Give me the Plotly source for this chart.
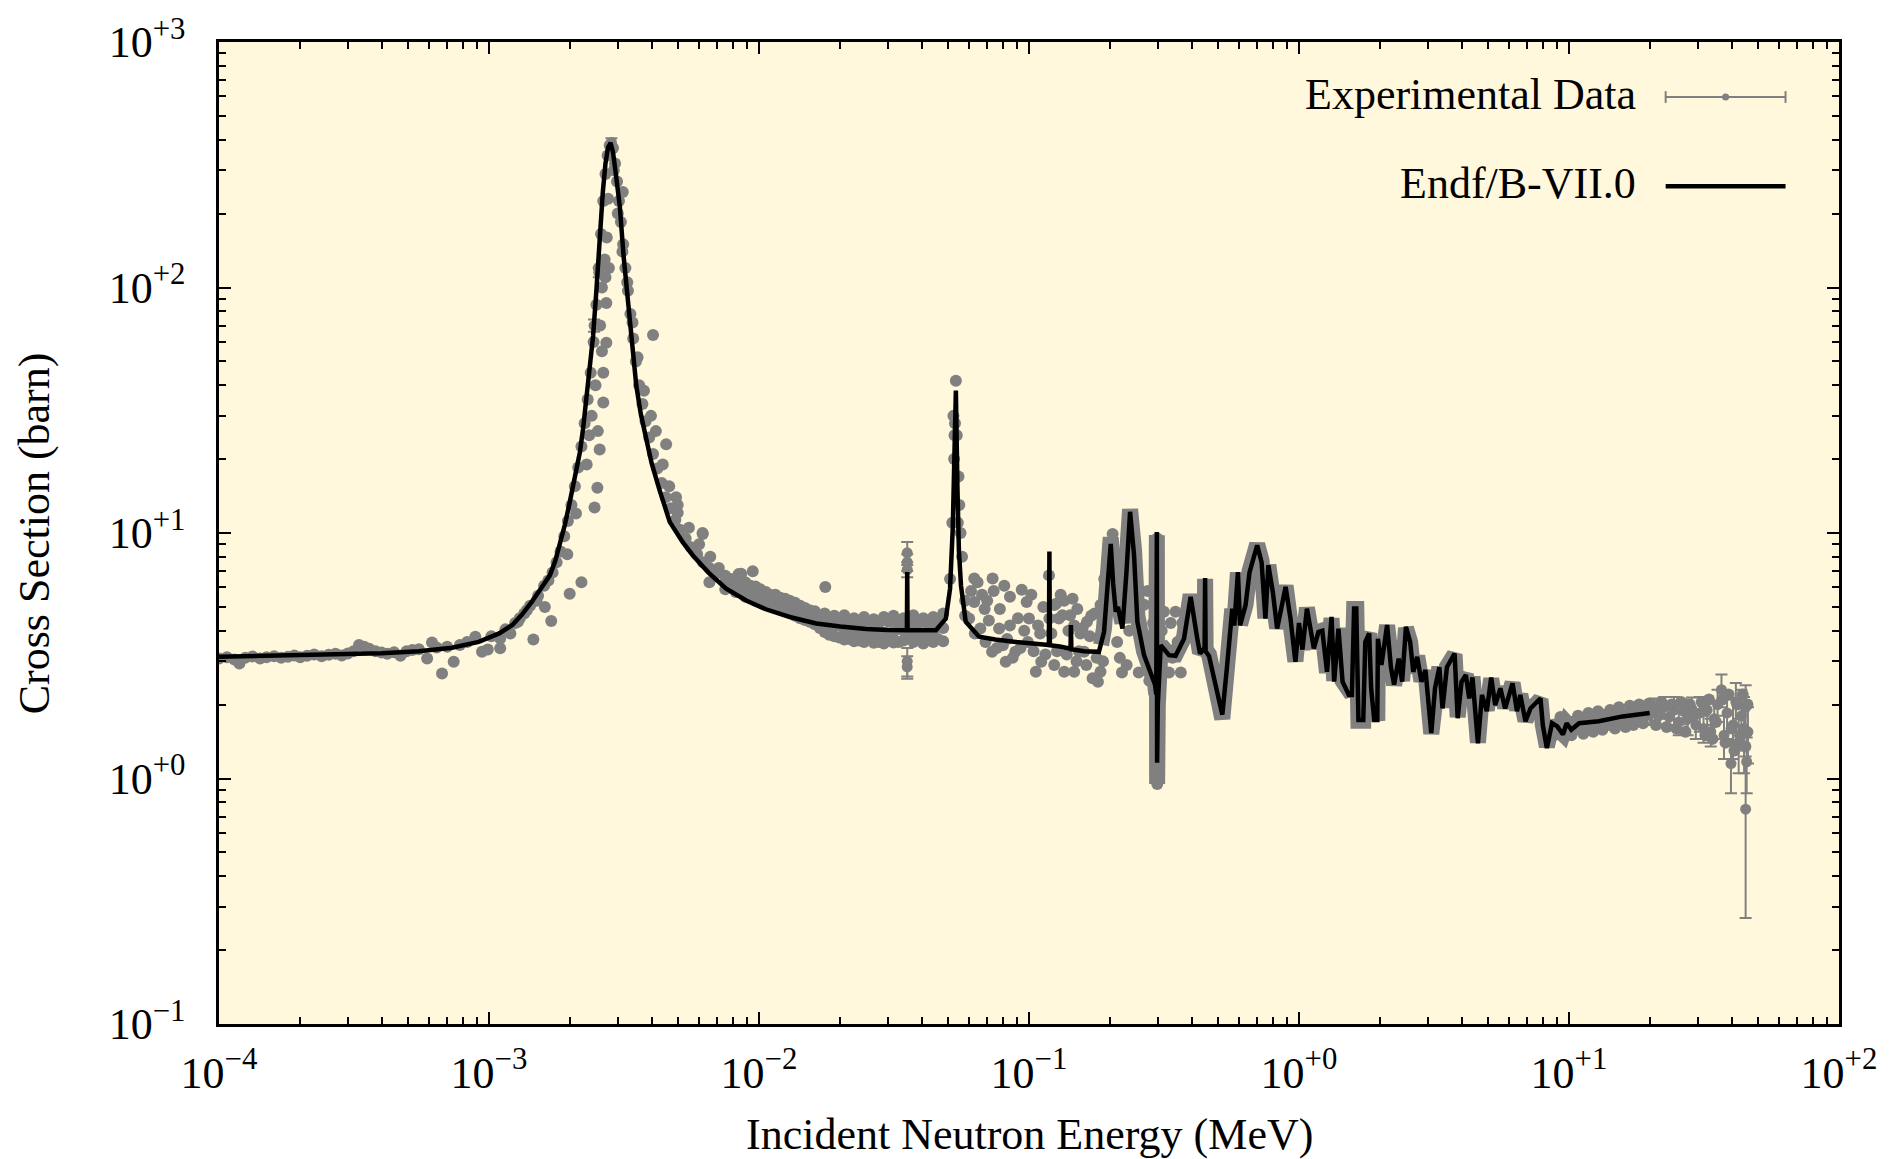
import plotly.graph_objects as go

# ---------------- data ----------------
# ENDF/B-VII.0 evaluated curve: energy (MeV) and cross section (barn)
endf_E = [1.0e-4, 2.34e-4, 4.0e-4, 5.5e-4, 7.29e-4, 9.16e-4, 1.09e-3, 1.22e-3, 1.32e-3, 1.44e-3,
          1.56e-3, 1.68e-3, 1.76e-3, 1.83e-3, 1.91e-3, 1.99e-3, 2.08e-3, 2.17e-3, 2.23e-3, 2.29e-3,
          2.36e-3, 2.43e-3, 2.5e-3, 2.57e-3, 2.64e-3, 2.7e-3, 2.76e-3, 2.82e-3, 2.88e-3, 2.95e-3,
          3.05e-3, 3.15e-3, 3.27e-3, 3.38e-3, 3.51e-3, 3.65e-3, 3.82e-3, 4.0e-3, 4.28e-3, 4.67e-3,
          5.21e-3, 5.69e-3, 6.5e-3, 7.56e-3, 9.0e-3, 1.06e-2, 1.3e-2, 1.63e-2, 2.0e-2, 2.49e-2,
          3.0e-2, 3.53e-2, 3.54e-2, 3.55e-2, 4.0e-2, 4.52e-2, 4.92e-2, 5.1e-2, 5.22e-2, 5.3e-2,
          5.36e-2, 5.43e-2, 5.5e-2, 5.6e-2, 5.83e-2, 6.53e-2, 7.5e-2, 8.94e-2, 0.1, 0.1185,
          0.1190, 0.1195, 0.13, 0.1425, 0.1430, 0.1435, 0.16, 0.1815, 0.1896, 0.195,
          0.2008, 0.205, 0.2096, 0.2135, 0.2218, 0.2296, 0.2368, 0.245, 0.252, 0.2667,
          0.2825, 0.293, 0.296, 0.2975, 0.2982, 0.300, 0.3075, 0.33, 0.349, 0.375,
          0.397, 0.42, 0.43, 0.447, 0.449, 0.451, 0.464, 0.485, 0.505, 0.52,
          0.542, 0.555, 0.566, 0.576, 0.594, 0.605, 0.634, 0.656, 0.70, 0.727,
          0.751, 0.77, 0.80, 0.83, 0.892, 0.93, 0.97, 1.0, 1.03, 1.07,
          1.135, 1.18, 1.22, 1.27, 1.32, 1.35, 1.40, 1.45, 1.53, 1.57,
          1.60, 1.63, 1.66, 1.73, 1.76, 1.82, 1.85, 1.90, 1.95, 1.96,
          2.02, 2.12, 2.19, 2.25, 2.34, 2.41, 2.49, 2.58, 2.65, 2.74,
          2.84, 2.94, 3.09, 3.19, 3.31, 3.40, 3.53, 3.77, 3.87, 4.0,
          4.15, 4.27, 4.39, 4.6, 4.76, 4.96, 5.15, 5.33, 5.57, 5.8,
          6.18, 6.42, 6.6, 6.9, 7.2, 7.54, 7.84, 8.0, 8.28, 8.65,
          9.05, 9.5, 9.8, 10.2, 10.9, 12.9, 15.8, 19.9]
endf_xs = [3.13, 3.19, 3.24, 3.30, 3.41, 3.60, 3.90, 4.22, 4.63, 5.24,
           5.95, 6.72, 7.7, 8.9, 10.8, 13.3, 16.8, 21.3, 26.5, 34,
           45, 63.5, 98, 162, 245, 320, 372, 388, 355, 290,
           215, 135, 86.5, 58, 40, 30.5, 24, 19.3, 15.0, 11.1,
           9.2, 8.1, 6.9, 5.93, 5.3, 4.89, 4.55, 4.28, 4.16, 4.06,
           4.03, 4.02, 6.93, 4.02, 4.02, 4.02, 4.48, 5.93, 10.5, 22,
           38, 15.6, 8.5, 6.1, 4.35, 3.78, 3.68, 3.6, 3.56, 3.5,
           8.41, 3.49, 3.45, 3.38, 4.22, 3.36, 3.3, 3.28, 3.95, 6.0,
           9.03, 6.2, 4.78, 5.0, 4.08, 6.93, 12.2, 8.1, 4.35, 3.18,
           2.72, 2.41, 2.2, 10.1, 1.16, 2.0, 3.49, 3.18, 3.16, 3.71,
           5.49, 3.71, 3.23, 3.4, 6.56, 3.3, 3.16, 2.56, 2.12, 1.82,
           2.9, 4.08, 4.92, 4.2, 6.93, 4.2, 5.08, 6.93, 8.9, 7.6,
           4.48, 7.4, 5.75, 4.08, 6.03, 4.48, 2.99, 4.3, 3.35, 4.92,
           3.39, 3.95, 4.0, 2.72, 4.55, 2.48, 4.08, 2.48, 2.19, 2.19,
           4.92, 4.92, 1.73, 1.73, 3.6, 3.9, 2.33, 1.73, 1.73, 3.71,
           2.9, 4.22, 2.84, 2.41, 3.08, 2.48, 4.15, 3.6, 2.72, 3.13,
           2.48, 2.77, 1.53, 2.33, 2.84, 1.93, 2.84, 3.23, 1.76, 2.48,
           2.64, 2.12, 2.58, 1.39, 2.19, 1.88, 2.58, 1.99, 2.33, 1.93,
           2.44, 1.88, 2.19, 1.71, 1.93, 2.03, 2.12, 1.65, 1.33, 1.68,
           1.63, 1.51, 1.68, 1.58, 1.68, 1.71, 1.79, 1.85]

# Experimental data, low-energy plateau (1e-4 .. 1.7e-3 MeV)
exp_low_E = [1.0e-4, 1.07e-4, 1.14e-4, 1.19e-4, 1.25e-4, 1.33e-4, 1.42e-4, 1.5e-4, 1.6e-4, 1.7e-4,
             1.8e-4, 1.9e-4, 2.0e-4, 2.12e-4, 2.25e-4, 2.4e-4, 2.55e-4, 2.7e-4, 2.85e-4, 3.0e-4,
             3.15e-4, 3.3e-4, 3.45e-4, 3.6e-4, 3.8e-4, 4.0e-4, 4.2e-4, 4.45e-4, 4.7e-4, 4.95e-4,
             5.2e-4, 5.5e-4, 5.9e-4, 6.15e-4, 6.4e-4, 6.7e-4, 7.0e-4, 7.4e-4, 7.8e-4, 8.3e-4,
             8.9e-4, 9.42e-4, 9.9e-4, 1.02e-3, 1.1e-3, 1.1e-3, 1.15e-3, 1.2e-3, 1.25e-3, 1.3e-3,
             1.38e-3, 1.46e-3, 1.5e-3, 1.61e-3, 1.7e-3]
exp_low_xs = [3.08, 3.12, 3.05, 2.94, 3.10, 3.14, 3.08, 3.12, 3.15, 3.10,
              3.13, 3.17, 3.12, 3.16, 3.20, 3.15, 3.19, 3.22, 3.17, 3.23,
              3.30, 3.50, 3.44, 3.38, 3.30, 3.26, 3.22, 3.27, 3.16, 3.30,
              3.34, 3.36, 3.08, 3.58, 3.42, 2.68, 3.44, 2.99, 3.50, 3.60,
              3.78, 3.28, 3.35, 3.80, 3.39, 3.72, 4.05, 3.90, 4.30, 4.50,
              4.85, 3.68, 5.30, 5.00, 4.38]

# Experimental data around the 2.85 keV resonance
exp_peak_E = [1.28e-3, 1.35e-3, 1.42e-3, 1.52e-3, 1.6e-3, 1.66e-3, 1.72e-3, 1.78e-3, 1.84e-3, 1.9e-3,
              1.96e-3, 2.02e-3, 2.08e-3, 2.14e-3, 2.2e-3, 2.26e-3, 2.32e-3, 2.38e-3, 2.44e-3, 2.5e-3,
              2.55e-3, 2.6e-3, 2.65e-3, 2.7e-3, 2.75e-3, 2.8e-3, 2.88e-3, 2.93e-3, 2.98e-3, 3.03e-3,
              3.08e-3, 3.14e-3, 3.2e-3, 3.27e-3, 3.34e-3, 3.42e-3, 3.5e-3, 3.6e-3, 3.7e-3, 3.8e-3,
              3.92e-3, 4.05e-3, 4.2e-3, 4.36e-3, 4.52e-3, 4.7e-3, 4.9e-3, 5.1e-3, 5.35e-3, 5.6e-3,
              5.9e-3, 6.2e-3, 6.55e-3, 6.9e-3,
              2.72e-3, 2.72e-3, 2.65e-3, 2.65e-3, 2.53e-3, 2.57e-3, 2.52e-3, 2.46e-3, 2.2e-3, 1.99e-3,
              2.76e-3, 2.73e-3, 2.78e-3, 3.13e-3, 4.05e-3, 4.53e-3, 4.93e-3, 5.0e-3, 6.18e-3, 8.8e-3,
              6.19e-3, 6.55e-3, 8.4e-3, 8.59e-3, 9.48e-3, 1.76e-2,
              2.62e-3, 2.68e-3, 2.58e-3, 2.48e-3, 2.4e-3, 2.35e-3, 2.62e-3, 2.7e-3, 2.9e-3, 3.0e-3,
              3.12e-3, 3.25e-3, 3.4e-3, 3.55e-3, 3.75e-3, 3.98e-3, 4.15e-3, 4.4e-3, 4.65e-3, 5.0e-3,
              5.5e-3, 6.0e-3, 6.6e-3, 7.1e-3, 2.3e-3, 2.1e-3, 1.95e-3]
exp_peak_xs = [4.35, 4.7, 5.05, 5.55, 6.1, 6.4, 6.9, 7.6, 8.4, 9.7,
               11.2, 13.0, 15.5, 18.5, 22.5, 28, 35, 45, 60, 85,
               120, 165, 225, 290, 345, 380, 370, 320, 270, 225,
               185, 150, 120, 97, 78, 62, 50, 40, 33.5, 28.5,
               24.5, 21, 18.3, 16, 14, 12.6, 11.3, 10.3, 9.5, 8.75,
               8.2, 7.6, 7.2, 6.8,
               86.5, 59.5, 45, 34, 26, 21.9, 15.3, 12.7, 6.3, 5.66,
               230, 160, 120, 245, 64, 23, 14, 12.1, 10, 6.3,
               9.9, 6.3, 6.8, 6.83, 6.98, 6.03,
               100, 130, 70, 40, 30, 25, 55, 110, 300, 200,
               140, 105, 72, 52, 38, 30, 26, 19, 15.5, 13,
               10.5, 9.0, 8.0, 7.2, 19, 12, 8.2]

# Experimental data, smooth region 7.5e-3 .. 5e-2 MeV
exp_mid_E = [7.5e-3, 7.5e-3, 7.5e-3, 8.2e-3, 8.2e-3, 8.2e-3, 8.9e-3, 8.9e-3, 8.9e-3,
             9.7e-3, 9.7e-3, 9.7e-3, 1.06e-2, 1.06e-2, 1.06e-2, 1.15e-2, 1.15e-2, 1.15e-2,
             1.25e-2, 1.25e-2, 1.25e-2, 1.36e-2, 1.36e-2, 1.36e-2, 1.48e-2, 1.48e-2, 1.48e-2,
             1.61e-2, 1.61e-2, 1.61e-2, 1.75e-2, 1.75e-2, 1.75e-2, 1.9e-2, 1.9e-2, 1.9e-2,
             2.07e-2, 2.07e-2, 2.07e-2, 2.25e-2, 2.25e-2, 2.25e-2, 2.45e-2, 2.45e-2, 2.45e-2,
             2.66e-2, 2.66e-2, 2.66e-2, 2.9e-2, 2.9e-2, 2.9e-2, 3.15e-2, 3.15e-2, 3.15e-2,
             3.43e-2, 3.43e-2, 3.43e-2, 3.73e-2, 3.73e-2, 3.73e-2, 4.06e-2, 4.06e-2, 4.06e-2,
             4.42e-2, 4.42e-2, 4.42e-2, 4.81e-2, 4.81e-2, 4.81e-2,
             7.85e-3, 7.85e-3, 8.55e-3, 8.55e-3, 9.3e-3, 9.3e-3, 1.01e-2, 1.01e-2, 1.1e-2, 1.1e-2,
             1.2e-2, 1.2e-2, 1.3e-2, 1.3e-2, 1.42e-2, 1.42e-2, 1.54e-2, 1.54e-2, 1.68e-2, 1.68e-2,
             1.82e-2, 1.82e-2, 1.98e-2, 1.98e-2, 2.16e-2, 2.16e-2, 2.35e-2, 2.35e-2, 2.55e-2, 2.55e-2,
             2.78e-2, 2.78e-2, 3.02e-2, 3.02e-2, 3.29e-2, 3.29e-2, 3.58e-2, 3.58e-2, 3.9e-2, 3.9e-2,
             4.24e-2, 4.24e-2, 4.6e-2, 4.6e-2]
exp_mid_xs = [5.9, 6.3, 6.7, 5.75, 6.1, 6.5, 5.5, 5.9, 6.3,
              5.3, 5.65, 6.05, 5.1, 5.45, 5.75, 4.95, 5.25, 5.6,
              4.8, 5.1, 5.4, 4.6, 4.9, 5.2, 4.42, 4.65, 4.95,
              4.25, 4.5, 4.8, 3.95, 4.3, 4.7, 3.8, 4.15, 4.6,
              3.68, 4.05, 4.62, 3.62, 4.0, 4.5, 3.6, 3.95, 4.55,
              3.57, 3.9, 4.45, 3.55, 3.92, 4.55, 3.58, 3.95, 4.6,
              3.65, 4.0, 4.5, 3.6, 3.95, 4.62, 3.55, 3.9, 4.5,
              3.6, 4.0, 4.55, 3.62, 4.1, 4.7,
              6.1, 6.5, 5.85, 6.3, 5.6, 6.1, 5.4, 5.9, 5.2, 5.6,
              5.0, 5.45, 4.75, 5.3, 4.5, 5.05, 4.35, 4.85, 4.1, 4.6,
              3.85, 4.45, 3.75, 4.35, 3.7, 4.25, 3.65, 4.3, 3.75, 4.25,
              3.6, 4.3, 3.7, 4.35, 3.6, 4.25, 3.75, 4.3, 3.7, 4.3,
              3.75, 4.25, 3.7, 4.35]

# Experimental data, resolved resonance cloud 5e-2 .. 0.4 MeV
exp_res_E = [0.051, 0.052, 0.0525, 0.0528, 0.053, 0.0532, 0.0536, 0.054, 0.0545, 0.0548,
             0.0552, 0.0558, 0.0565, 0.0627, 0.0645, 0.0733, 0.0627, 0.070, 0.060, 0.066,
             0.0775, 0.080, 0.073, 0.082, 0.089, 0.094, 0.098, 0.100, 0.106, 0.111,
             0.099, 0.1186, 0.119, 0.124, 0.129, 0.135, 0.142, 0.147, 0.124, 0.135,
             0.147, 0.177, 0.184, 0.160, 0.184, 0.204, 0.126, 0.145, 0.133, 0.164,
             0.172, 0.180, 0.185, 0.210, 0.214, 0.217, 0.221, 0.230, 0.258, 0.267,
             0.275, 0.255, 0.279, 0.288, 0.249, 0.220, 0.316, 0.330, 0.349, 0.365,
             0.340, 0.2985, 0.2985, 0.2985, 0.2985, 0.2985, 0.2985, 0.0685, 0.085, 0.155,
             0.170, 0.195, 0.110, 0.150, 0.192,
             0.058, 0.058, 0.061, 0.063, 0.067, 0.069, 0.071, 0.074, 0.076, 0.078,
             0.081, 0.083, 0.085, 0.087, 0.091, 0.093, 0.096, 0.102, 0.104, 0.108,
             0.113, 0.115, 0.121, 0.127, 0.131, 0.138, 0.140, 0.151, 0.153, 0.158,
             0.163, 0.168, 0.175, 0.178, 0.188, 0.190, 0.197, 0.207, 0.212, 0.225,
             0.235, 0.240, 0.262, 0.270, 0.285, 0.292, 0.310, 0.320, 0.335, 0.355,
             0.370, 0.385]
exp_res_xs = [6.5, 11, 30, 20, 25, 28, 41.7, 25, 11, 17,
              13, 10, 8, 6.52, 6.3, 6.52, 5.24, 5.3, 4.48, 4.08,
              4.08, 3.49, 3.28, 2.99, 3.28, 5.87, 5.24, 4.48, 2.72, 2.99,
              3.6, 6.72, 4.48, 5.09, 4.48, 5.3, 4.62, 4.2, 2.9, 2.72,
              2.72, 2.56, 2.72, 3.28, 5.09, 9.9, 5.15, 5.4, 4.62, 4.35,
              2.56, 2.48, 5.09, 6.93, 6.0, 3.1, 2.7, 2.9, 5.85, 5.1,
              5.8, 2.7, 2.5, 4.3, 6.9, 7.2, 4.78, 2.7, 4.78, 2.7,
              3.1, 0.95, 1.1, 1.4, 1.8, 8.5, 9.5, 4.9, 4.2, 3.9,
              4.6, 5.9, 3.9, 3.0, 4.8,
              4.6, 5.3, 5.8, 3.9, 5.6, 3.6, 4.4, 5.8, 3.4, 4.9,
              6.1, 3.7, 5.5, 3.1, 4.5, 3.4, 4.0, 5.6, 3.3, 4.2,
              5.0, 3.2, 3.9, 3.3, 5.6, 3.2, 4.0, 4.9, 3.3, 4.1,
              2.9, 3.8, 4.7, 3.1, 3.0, 6.5, 7.5, 5.6, 3.6, 5.5,
              4.0, 7.5, 4.0, 3.6, 3.5, 5.2, 4.0, 3.3, 4.3, 3.6,
              4.3, 4.5]

# Experimental data, high-energy scatter without visible bars (8 .. 46 MeV)
exp_high_E = [8.8, 9.3, 10.2, 10.8, 11.3, 11.8, 12.3, 12.8, 13.3, 14.2,
              14.8, 15.3, 16.2, 16.8, 17.3, 18.2, 18.8, 19.8, 21.0, 22.0,
              23.0, 24.0, 25.0, 26.0, 27.0, 28.0, 29.0, 31.0, 32.0, 33.0,
              34.0, 35.0, 37.0, 38.0, 39.0, 40.0, 41.0, 42.0, 43.0, 44.0,
              45.0, 45.8]
exp_high_xs = [1.5, 1.78, 1.5, 1.8, 1.52, 1.85, 1.55, 1.88, 1.58, 1.9,
               1.6, 1.95, 1.62, 1.98, 1.65, 2.0, 1.68, 2.02, 1.65, 2.05,
               1.62, 2.0, 1.6, 2.05, 1.55, 2.0, 1.8, 2.05, 1.5, 2.1,
               1.45, 1.7, 2.1, 1.4, 2.2, 1.6, 1.3, 2.0, 1.5, 2.2,
               1.35, 2.0]

# Experimental data, dense high-energy set hugging the evaluation (0.185 .. 13 MeV)
exp_dense_E = [0.185, 0.1896, 0.195, 0.2008, 0.205, 0.2096, 0.2135, 0.2218, 0.2296, 0.2368,
               0.245, 0.252, 0.2667, 0.2825, 0.293, 0.296, 0.2975, 0.2982, 0.300, 0.3075,
               0.33, 0.349, 0.375, 0.397, 0.42, 0.43, 0.447, 0.449, 0.451, 0.464,
               0.485, 0.505, 0.52, 0.542, 0.555, 0.566, 0.576, 0.594, 0.605, 0.634,
               0.656, 0.70, 0.727, 0.751, 0.77, 0.80, 0.83, 0.892, 0.93, 0.97,
               1.0, 1.03, 1.07, 1.135, 1.18, 1.22, 1.27, 1.32, 1.35, 1.40,
               1.45, 1.53, 1.57, 1.60, 1.63, 1.66, 1.73, 1.76, 1.82, 1.85,
               1.90, 1.95, 1.96, 2.02, 2.12, 2.19, 2.25, 2.34, 2.41, 2.49,
               2.58, 2.65, 2.74, 2.84, 2.94, 3.09, 3.19, 3.31, 3.40, 3.53,
               3.77, 3.87, 4.0, 4.15, 4.27, 4.39, 4.6, 4.76, 4.96, 5.15,
               5.33, 5.57, 5.8, 6.18, 6.42, 6.6, 6.9, 7.2, 7.54, 7.84,
               8.0, 8.28, 8.65, 9.05, 9.5, 9.8, 10.2, 10.9, 12.9]
exp_dense_xs = [3.5, 4.1, 6.3, 9.6, 6.5, 5.0, 5.3, 4.3, 7.2, 12.5,
                8.5, 4.6, 3.3, 2.8, 2.45, 2.2, 9.8, 0.95, 2.0, 3.5,
                3.2, 3.2, 3.75, 5.6, 3.75, 3.25, 3.4, 6.5, 3.35, 3.2,
                2.55, 2.1, 1.75, 2.9, 4.1, 4.9, 4.25, 6.9, 4.25, 5.1,
                7.0, 9.0, 7.7, 4.5, 7.4, 5.8, 4.1, 6.1, 4.5, 3.0,
                4.3, 3.35, 4.95, 3.4, 3.95, 4.0, 2.7, 4.5, 2.5, 4.1,
                2.5, 2.2, 2.2, 4.9, 4.9, 1.72, 1.72, 3.6, 3.9, 2.35,
                1.72, 1.72, 3.7, 2.9, 4.2, 2.85, 2.4, 3.1, 2.5, 4.1,
                3.6, 2.7, 3.15, 2.5, 2.75, 1.52, 2.35, 2.85, 1.95, 2.85,
                3.2, 1.78, 2.5, 2.65, 2.1, 2.6, 1.4, 2.2, 1.9, 2.55,
                2.0, 2.35, 1.95, 2.45, 1.9, 2.2, 1.72, 1.95, 2.0, 2.1,
                1.65, 1.35, 1.68, 1.62, 1.52, 1.68, 1.6, 1.68, 1.72]

# Experimental data with visible error bars (value, +/- uncertainty)
exp_eb_E = [2.84e-3, 2.45e-3, 2.55e-3,
            0.0354, 0.0354, 0.0354, 0.0354, 0.0354,
            8.5, 9.0, 9.5, 10.0, 10.5, 11.0, 11.5, 12.0, 12.5, 13.0,
            13.5, 14.0, 14.5, 15.0, 15.5, 16.0, 16.5, 17.0, 17.5, 18.0,
            18.5, 19.0, 19.5, 20.0, 20.8, 21.5, 22.5, 23.5, 24.5, 25.5,
            26.5, 27.5, 28.5, 29.5, 30.5, 31.5, 32.5, 33.5, 34.5, 35.5,
            36.7, 37.5, 38.5, 39.8, 40.5, 41.5, 42.5, 43.5, 44.5, 45.1,
            45.1, 45.5, 46.0]
exp_eb_xs = [390, 70, 115,
             8.3, 7.6, 7.1, 3.0, 2.85,
             1.62, 1.55, 1.70, 1.60, 1.68, 1.62, 1.72, 1.66, 1.75, 1.68,
             1.78, 1.70, 1.80, 1.72, 1.82, 1.75, 1.84, 1.77, 1.86, 1.79,
             1.88, 1.81, 1.90, 1.83, 1.92, 1.80, 1.95, 1.78, 1.90, 1.70,
             1.88, 1.75, 1.92, 1.65, 1.85, 1.60, 1.90, 1.55, 1.75, 2.00,
             2.30, 1.50, 1.85, 1.15, 1.65, 2.05, 1.40, 1.80, 1.60, 1.95,
             0.75, 1.17, 1.55]
exp_eb_err = [15, 4, 5,
              0.9, 0.6, 0.5, 0.4, 0.3,
              0.10, 0.10, 0.10, 0.12, 0.10, 0.10, 0.10, 0.10, 0.10, 0.12,
              0.12, 0.12, 0.12, 0.12, 0.14, 0.15, 0.15, 0.15, 0.15, 0.15,
              0.16, 0.16, 0.16, 0.16, 0.20, 0.18, 0.20, 0.20, 0.25, 0.20,
              0.22, 0.25, 0.22, 0.20, 0.30, 0.20, 0.25, 0.20, 0.30, 0.30,
              0.35, 0.30, 0.40, 0.28, 0.45, 0.40, 0.35, 0.50, 0.55, 0.45,
              0.48, 0.30, 0.40]

# Axis tick values and labels
x_tick_vals = [1e-4, 1e-3, 1e-2, 1e-1, 1e0, 1e1, 1e2]
x_tick_text = ["10<sup>\u22124</sup>", "10<sup>\u22123</sup>", "10<sup>\u22122</sup>",
               "10<sup>\u22121</sup>", "10<sup>+0</sup>", "10<sup>+1</sup>", "10<sup>+2</sup>"]
y_tick_vals = [1e-1, 1e0, 1e1, 1e2, 1e3]
y_tick_text = ["10<sup>\u22121</sup>", "10<sup>+0</sup>", "10<sup>+1</sup>",
               "10<sup>+2</sup>", "10<sup>+3</sup>"]

# ---------------- styling ----------------
FONT = "Liberation Serif"
GREY = "#808080"
BG = "#FFF8DC"

x_minor = [m * 10.0 ** k for k in range(-4, 2) for m in range(2, 10)]
y_minor = [m * 10.0 ** k for k in range(-1, 3) for m in range(2, 10)]

fig = go.Figure()

scatter_E = exp_low_E + exp_peak_E + exp_mid_E + exp_res_E + exp_high_E
scatter_xs = exp_low_xs + exp_peak_xs + exp_mid_xs + exp_res_xs + exp_high_xs

fig.add_trace(go.Scatter(x=scatter_E, y=scatter_xs, mode="markers",
                         marker=dict(color=GREY, size=12, symbol="circle", line=dict(width=0)),
                         showlegend=False, hoverinfo="skip"))
fig.add_trace(go.Scatter(x=exp_dense_E, y=exp_dense_xs, mode="lines",
                         line=dict(color=GREY, width=16),
                         showlegend=False, hoverinfo="skip"))
fig.add_trace(go.Scatter(x=exp_eb_E, y=exp_eb_xs, mode="markers",
                         marker=dict(color=GREY, size=11, symbol="circle", line=dict(width=0)),
                         error_y=dict(type="data", array=exp_eb_err, visible=True,
                                      color=GREY, thickness=2, width=6),
                         showlegend=False, hoverinfo="skip"))
fig.add_trace(go.Scatter(x=endf_E, y=endf_xs, mode="lines",
                         line=dict(color="black", width=4.5),
                         showlegend=False, hoverinfo="skip"))

axis_common = dict(type="log", ticks="inside", ticklen=12, tickwidth=2, tickcolor="black",
                   showline=True, linewidth=2.5, linecolor="black", mirror="ticks",
                   showgrid=False, zeroline=False,
                   tickfont=dict(family=FONT, size=44, color="black"))

fig.update_layout(
    width=1889, height=1159,
    margin=dict(l=219, r=48, t=38, b=135),
    paper_bgcolor="white", plot_bgcolor=BG,
    showlegend=False,
    font=dict(family=FONT, size=44, color="black"),
    xaxis=dict(range=[-4, 2], tickmode="array", tickvals=x_tick_vals, ticktext=x_tick_text,
               ticklabelstandoff=8,
               minor=dict(tickmode="array", tickvals=x_minor, ticks="inside", ticklen=7,
                          tickwidth=2, tickcolor="black", showgrid=False),
               **axis_common),
    yaxis=dict(range=[-1, 3], tickmode="array", tickvals=y_tick_vals, ticktext=y_tick_text,
               ticklabelstandoff=22,
               minor=dict(tickmode="array", tickvals=y_minor, ticks="inside", ticklen=7,
                          tickwidth=2, tickcolor="black", showgrid=False),
               **axis_common),
)

# axis titles
fig.add_annotation(text="Incident Neutron Energy (MeV)", xref="paper", yref="paper",
                   x=0.5, y=-0.1126, xanchor="center", yanchor="middle", showarrow=False,
                   font=dict(family=FONT, size=44, color="black"))
fig.add_annotation(text="Cross Section (barn)", xref="paper", yref="paper",
                   x=-0.114, y=0.5, xanchor="center", yanchor="middle", textangle=-90,
                   showarrow=False, font=dict(family=FONT, size=44, color="black"))

# key (text on the left, sample on the right, as in the reference)
ky1, ky2 = 0.947, 0.856
fig.add_annotation(text="Experimental Data", xref="paper", yref="paper", x=0.876, y=ky1,
                   xanchor="right", yanchor="middle", showarrow=False,
                   font=dict(family=FONT, size=44, color="black"))
fig.add_annotation(text="Endf/B-VII.0", xref="paper", yref="paper", x=0.876, y=ky2,
                   xanchor="right", yanchor="middle", showarrow=False,
                   font=dict(family=FONT, size=44, color="black"))
ly1 = 0.944
fig.add_shape(type="line", xref="paper", yref="paper", x0=0.893, x1=0.967, y0=ly1, y1=ly1,
              line=dict(color=GREY, width=2))
fig.add_shape(type="line", xref="paper", yref="paper", x0=0.893, x1=0.893,
              y0=ly1 - 0.006, y1=ly1 + 0.006, line=dict(color=GREY, width=2))
fig.add_shape(type="line", xref="paper", yref="paper", x0=0.967, x1=0.967,
              y0=ly1 - 0.006, y1=ly1 + 0.006, line=dict(color=GREY, width=2))
fig.add_shape(type="circle", xref="paper", yref="paper", x0=0.930 - 0.0022, x1=0.930 + 0.0022,
              y0=ly1 - 0.0036, y1=ly1 + 0.0036, fillcolor=GREY, line=dict(color=GREY, width=0))
fig.add_shape(type="line", xref="paper", yref="paper", x0=0.893, x1=0.967, y0=0.853, y1=0.853,
              line=dict(color="black", width=4.5))

fig.write_html("out.html", config={"displayModeBar": False},
               post_script="document.body.style.margin='0';")
